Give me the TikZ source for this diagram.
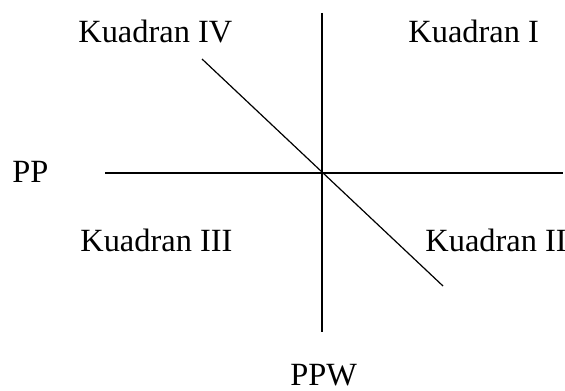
\documentclass[tikz,border=0pt]{standalone}
\usepackage{fontspec}
\setmainfont{Liberation Serif}
\usepackage{tikz}
\usetikzlibrary{positioning}
\tikzset{
  quadlabel/.style={
    inner sep=0pt, anchor=base west,
    font=\fontsize{16.2}{19}\selectfont
  },
  axisline/.style={
    draw=black, line width=0.6pt
  },
  slopeline/.style={
    draw=black, line width=0.6pt
  }
}
\begin{document}
\begin{tikzpicture}[x=0.5pt, y=-0.5pt]
    \useasboundingbox (0,0) rectangle (565,390);

    % ends of the axes and the slope
    \coordinate (vtop) at (322,13);
    \coordinate (vbot) at (322,332);
    \coordinate (hleft) at (105,173);
    \coordinate (hright) at (563,173);
    \coordinate (dtop) at (202,59);
    \coordinate (dbot) at (443,286);

    \draw[axisline] (vtop) -- (vbot);
    \draw[axisline] (hleft) -- (hright);
    \draw[slopeline] (dtop) -- (dbot);

    \node[quadlabel] (q4) at (78,43) {Kuadran IV};
    \node[quadlabel] (q1) at (408,43) {Kuadran I};
    \node[quadlabel] (q3) at (80,251) {Kuadran III};
    \node[quadlabel] (q2) at (425,251) {Kuadran II};
    \node[quadlabel] (pp) at (12,182) {PP};
    \node[quadlabel] (ppw) at (290,385) {PPW};

\end{tikzpicture}
\end{document}
